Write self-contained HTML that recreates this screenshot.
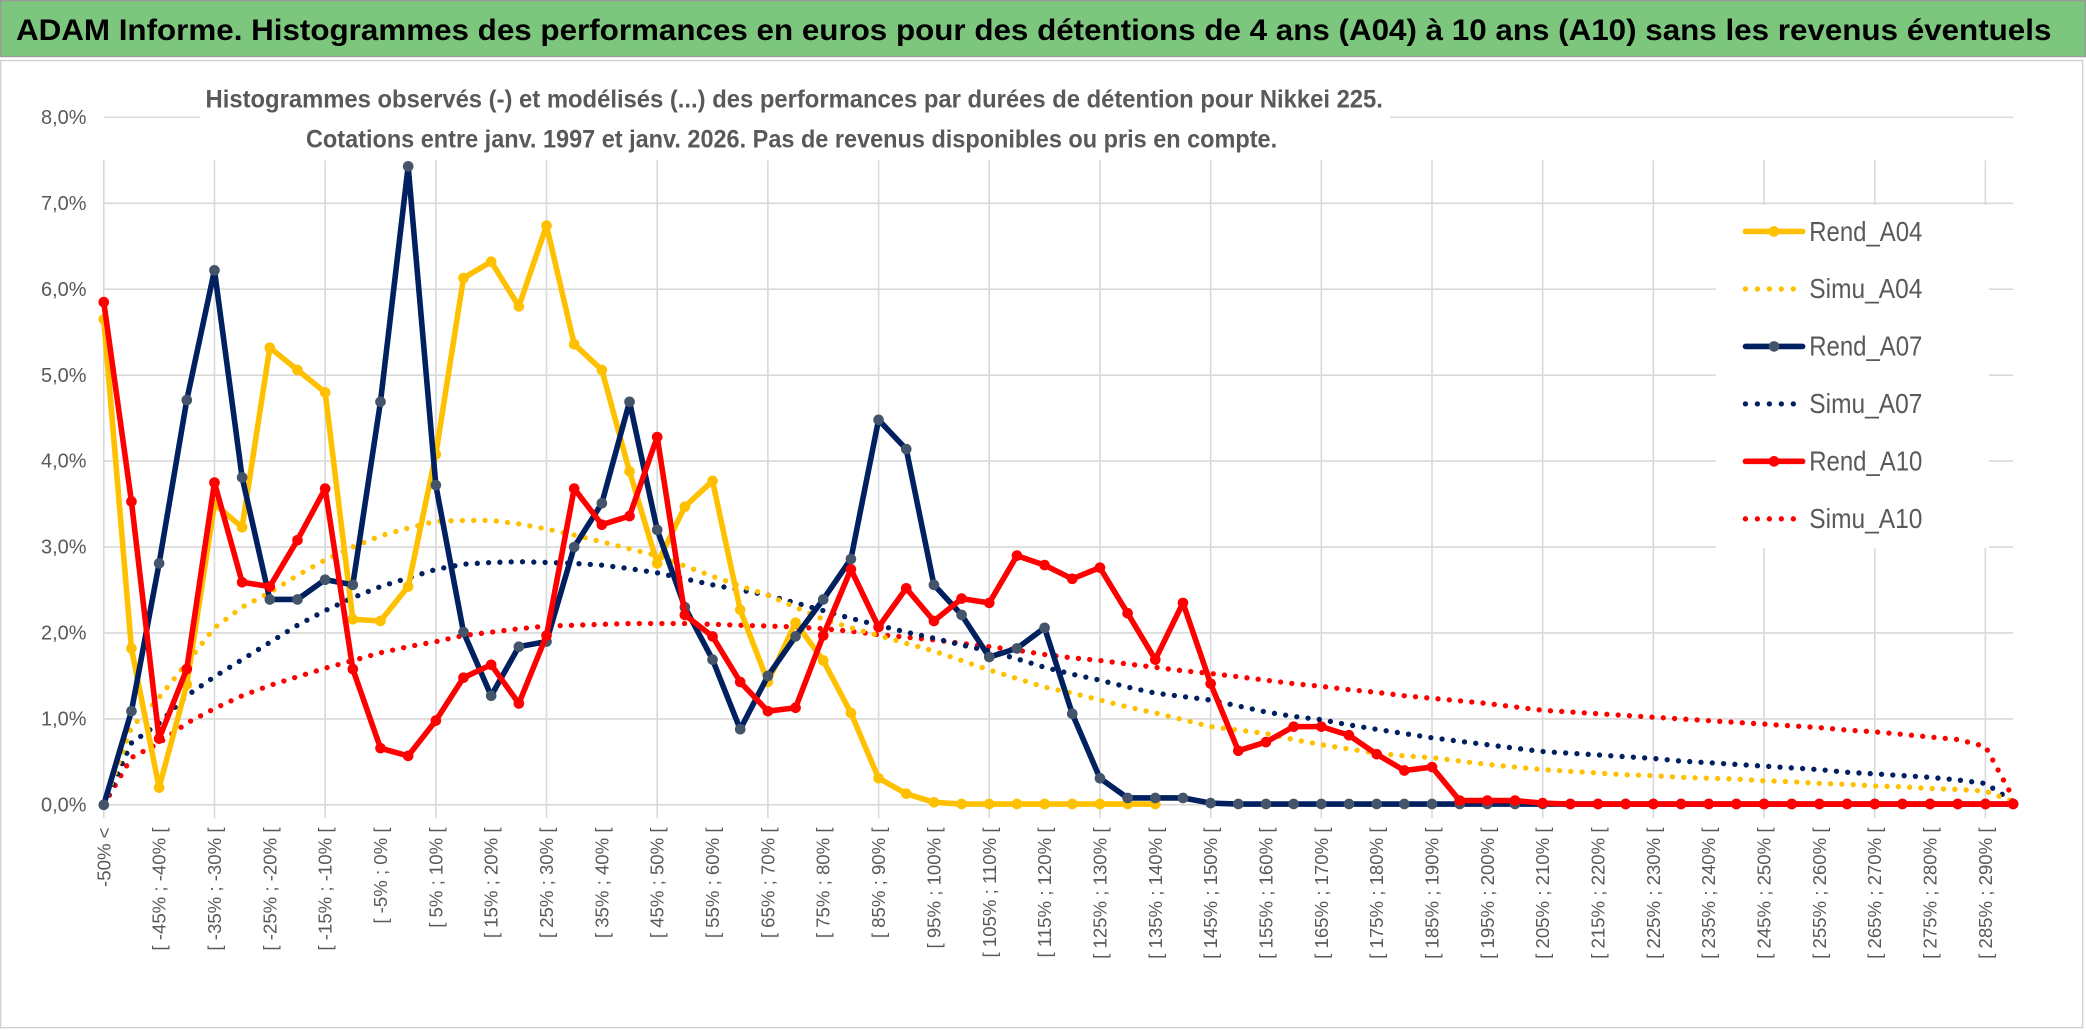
<!DOCTYPE html>
<html><head><meta charset="utf-8">
<style>
html,body{margin:0;padding:0;background:#fff;}
svg{display:block;}
text{font-family:"Liberation Sans Narrow","Liberation Sans",sans-serif;}
</style></head>
<body>
<svg id="chart" width="2086" height="1031" viewBox="0 0 1568 775" preserveAspectRatio="none" xmlns="http://www.w3.org/2000/svg">
  <rect x="0" y="0" width="1568" height="775" fill="#fff"/>
  <rect x="0.5" y="0.5" width="1567" height="42" fill="#7dc67d" stroke="#9a9a9a" stroke-width="1"/>
  <text x="12" y="30" font-size="22" font-weight="bold" fill="#000" textLength="1530" lengthAdjust="spacingAndGlyphs">ADAM Informe. Histogrammes des performances en euros pour des détentions de 4 ans (A04) à 10 ans (A10) sans les revenus éventuels</text>
  <rect x="0.5" y="45.5" width="1565" height="727" fill="#fff" stroke="#d0d0d0" stroke-width="1"/>
  <g id="grid"></g>
  <g id="yaxis"></g>
  <g id="xaxis"></g>
  <rect x="150" y="58" width="895" height="62" fill="#fff"/>
  <text x="597" y="81" text-anchor="middle" font-size="19" font-weight="bold" fill="#595959" textLength="885" lengthAdjust="spacingAndGlyphs">Histogrammes observés (-) et modélisés (...) des performances par durées de détention pour Nikkei 225.</text>
  <text x="595" y="111" text-anchor="middle" font-size="19" font-weight="bold" fill="#595959" textLength="730" lengthAdjust="spacingAndGlyphs">Cotations entre janv. 1997 et janv. 2026. Pas de revenus disponibles ou pris en compte.</text>
  <g id="series"></g>
  <g id="legend"></g>
</svg>
<script>
const categories = [];
for (let i = 0; i < 70; i++) {
  if (i === 0) categories.push('-50% <');
  else { const a = -50 + 5 * (i - 1); categories.push('[ ' + a + '% ; ' + (a + 5) + '% ['); }
}
const yTicks = [0, 1, 2, 3, 4, 5, 6, 7, 8];
const yTickLabels = ['0,0%','1,0%','2,0%','3,0%','4,0%','5,0%','6,0%','7,0%','8,0%'];
const seriesNames = ['Rend_A04','Simu_A04','Rend_A07','Simu_A07','Rend_A10','Simu_A10'];
const rendA04 = [5.65,1.82,0.2,1.4,3.5,3.23,5.32,5.06,4.8,2.16,2.14,2.54,4.08,6.13,6.32,5.8,6.74,5.36,5.06,3.88,2.81,3.47,3.77,2.27,1.43,2.12,1.68,1.07,0.31,0.13,0.03,0.01,0.01,0.01,0.01,0.01,0.01,0.01,0.01];
const simuA04 = [0,0.9,1.25,1.65,2.06,2.3,2.47,2.67,2.85,3.0,3.13,3.22,3.3,3.31,3.31,3.27,3.21,3.14,3.06,2.98,2.9,2.78,2.66,2.55,2.44,2.3,2.16,2.06,1.97,1.88,1.79,1.68,1.57,1.47,1.37,1.3,1.22,1.14,1.07,0.99,0.91,0.87,0.83,0.76,0.7,0.65,0.6,0.57,0.55,0.51,0.47,0.44,0.41,0.39,0.37,0.35,0.34,0.32,0.31,0.3,0.28,0.27,0.25,0.24,0.22,0.21,0.19,0.18,0.16,0.04];
const rendA07 = [0,1.09,2.81,4.71,6.22,3.81,2.39,2.39,2.62,2.56,4.69,7.43,3.72,2.01,1.27,1.84,1.9,3.0,3.51,4.69,3.2,2.3,1.69,0.88,1.5,1.96,2.39,2.86,4.48,4.14,2.56,2.21,1.72,1.82,2.06,1.06,0.31,0.08,0.08,0.08,0.02,0.01,0.01,0.01,0.01,0.01,0.01,0.01,0.01,0.01,0.01,0.01,0.01,0.01,0.01,0.01,0.01,0.01,0.01,0.01,0.01,0.01,0.01,0.01,0.01,0.01,0.01,0.01,0.01,0.01];
const simuA07 = [0,0.72,0.95,1.27,1.49,1.69,1.89,2.09,2.26,2.41,2.54,2.64,2.74,2.8,2.82,2.83,2.82,2.81,2.79,2.75,2.7,2.63,2.56,2.5,2.44,2.35,2.26,2.17,2.09,2.01,1.94,1.86,1.79,1.7,1.6,1.52,1.45,1.37,1.3,1.26,1.22,1.15,1.08,1.03,0.99,0.93,0.88,0.83,0.78,0.74,0.7,0.66,0.62,0.6,0.58,0.56,0.54,0.51,0.49,0.47,0.45,0.43,0.41,0.38,0.36,0.34,0.32,0.29,0.25,0.04];
const rendA10 = [5.85,3.53,0.77,1.58,3.75,2.59,2.54,3.08,3.68,1.58,0.66,0.57,0.98,1.48,1.63,1.18,1.97,3.68,3.26,3.36,4.28,2.21,1.96,1.43,1.09,1.13,1.97,2.74,2.07,2.52,2.14,2.4,2.35,2.9,2.79,2.63,2.76,2.23,1.69,2.35,1.41,0.63,0.73,0.91,0.91,0.81,0.59,0.4,0.44,0.05,0.05,0.05,0.02,0.01,0.01,0.01,0.01,0.01,0.01,0.01,0.01,0.01,0.01,0.01,0.01,0.01,0.01,0.01,0.01,0.01];
const simuA10 = [0,0.55,0.72,0.95,1.12,1.27,1.39,1.49,1.59,1.68,1.77,1.84,1.9,1.97,2.01,2.05,2.08,2.09,2.1,2.11,2.11,2.11,2.1,2.09,2.08,2.07,2.05,2.02,1.98,1.95,1.92,1.88,1.84,1.8,1.75,1.71,1.68,1.64,1.6,1.56,1.53,1.49,1.45,1.41,1.38,1.34,1.31,1.27,1.24,1.21,1.18,1.14,1.1,1.08,1.06,1.04,1.02,1.0,0.98,0.96,0.94,0.92,0.9,0.87,0.85,0.82,0.79,0.76,0.68,0.08];

const NS = 'http://www.w3.org/2000/svg';
const X0 = 78, XSTEP = 20.8, Y0 = 605, YUNIT = 64.6;
function xPos(i){ return X0 + XSTEP * i; }
function yPos(v){ return Y0 - YUNIT * v; }
function mk(tag, attrs, parent){ const e = document.createElementNS(NS, tag); for (const k in attrs) e.setAttribute(k, attrs[k]); parent.appendChild(e); return e; }

const grid = document.getElementById('grid');
const yaxis = document.getElementById('yaxis');
const xaxis = document.getElementById('xaxis');
const xEnd = xPos(categories.length - 1);
yTicks.forEach((t, k) => {
  const ln = mk('line', {x1: X0, x2: xEnd, y1: yPos(t), y2: yPos(t), stroke: '#d9d9d9', 'stroke-width': 1.2}, grid);
  
  
  const tx = mk('text', {x: 65, y: yPos(t) + 5, 'text-anchor': 'end', 'font-size': 15, fill: '#595959'}, yaxis);
  tx.textContent = yTickLabels[k];
  
  
});
for (let i = 0; i < categories.length; i += 4) {
  const ln = mk('line', {x1: xPos(i), x2: xPos(i), y1: yPos(7.5), y2: Y0 + 10, stroke: '#d9d9d9', 'stroke-width': 1.2}, grid);
  
  
}
categories.forEach((c, i) => {
  if (i !== 0 && i % 2 !== 0) return;
  const x = xPos(i), y = 622;
  const tx = mk('text', {x: x, y: y, transform: 'rotate(-90 ' + x + ' ' + y + ')', 'text-anchor': 'end', 'dominant-baseline': 'central', 'font-size': 14, fill: '#595959', 'font-family': '"Liberation Sans", sans-serif'}, xaxis);
  tx.textContent = c;
  
  
});

const seriesG = document.getElementById('series');
const defs = [
  {name: 'simu-a10', data: simuA10, color: '#ff0000', dotted: true},
  {name: 'simu-a07', data: simuA07, color: '#002060', dotted: true},
  {name: 'simu-a04', data: simuA04, color: '#ffc000', dotted: true},
  {name: 'rend-a04', data: rendA04, color: '#ffc000', marker: '#ffc000'},
  {name: 'rend-a07', data: rendA07, color: '#002060', marker: '#44546a'},
  {name: 'rend-a10', data: rendA10, color: '#ff0000', marker: '#ff0000'}
];
defs.forEach(s => {
  const pts = s.data.map((v, i) => xPos(i).toFixed(1) + ',' + yPos(v).toFixed(1)).join(' ');
  const attrs = {points: pts, fill: 'none', stroke: s.color, 'stroke-linejoin': 'round', 'stroke-linecap': 'round'};
  if (s.dotted) { attrs['stroke-width'] = 4; attrs['stroke-dasharray'] = '0 8.5'; }
  else attrs['stroke-width'] = 4.2;
  const pl = mk('polyline', attrs, seriesG);
  
  
  if (s.marker) {
    s.data.forEach((v, i) => {
      const c = mk('circle', {cx: xPos(i), cy: yPos(v), r: 4, fill: s.marker}, seriesG);
      
      
    });
  }
});

const legend = document.getElementById('legend');
const lbg = mk('rect', {x: 1290, y: 154, width: 205, height: 258, fill: '#fff'}, legend);


const legendStyles = [
  {color: '#ffc000', marker: '#ffc000'},
  {color: '#ffc000', dotted: true},
  {color: '#002060', marker: '#44546a'},
  {color: '#002060', dotted: true},
  {color: '#ff0000', marker: '#ff0000'},
  {color: '#ff0000', dotted: true}
];
seriesNames.forEach((n, k) => {
  const y = 174 + k * 43.2;
  const g = mk('g', {}, legend);
  
  
  const st = legendStyles[k];
  if (st.dotted) {
    mk('line', {x1: 1312, x2: 1356, y1: y, y2: y, stroke: st.color, 'stroke-width': 4, 'stroke-linecap': 'round', 'stroke-dasharray': '0 9'}, g);
  } else {
    mk('line', {x1: 1312, x2: 1355, y1: y, y2: y, stroke: st.color, 'stroke-width': 4.2, 'stroke-linecap': 'round'}, g);
    mk('circle', {cx: 1333.5, cy: y, r: 4, fill: st.marker}, g);
  }
  const t = mk('text', {x: 1360, y: y + 7, 'font-size': 21, fill: '#595959', textLength: 85, lengthAdjust: 'spacingAndGlyphs'}, g);
  t.textContent = n;
});
</script>
</body></html>
